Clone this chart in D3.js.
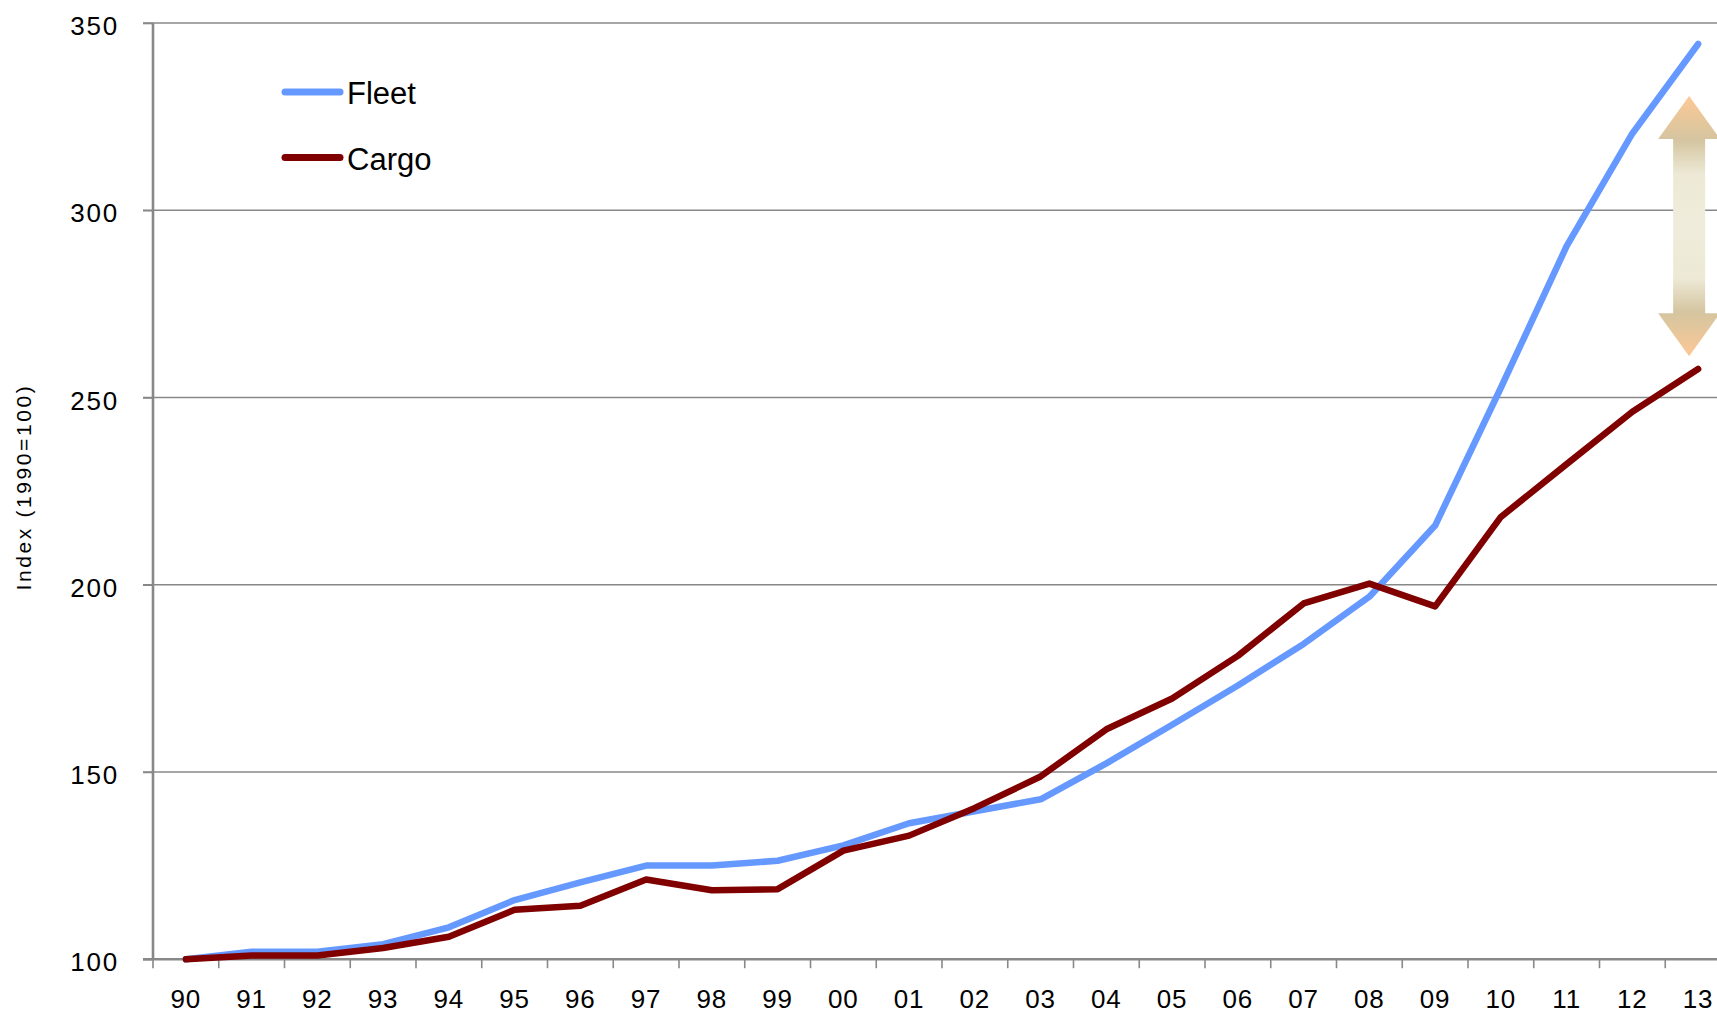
<!DOCTYPE html>
<html>
<head>
<meta charset="utf-8">
<script src="https://cdn.jsdelivr.net/npm/d3@7/dist/d3.min.js"></script>
<style>
	html, body { margin: 0; padding: 0; background: #fff; overflow: hidden; }
	text { font-family: "Liberation Sans", Arial, sans-serif; fill: #000; }
</style>
</head>
<body>
<svg id="chart" width="1717" height="1014"></svg>
<script>
// Years shown as two-digit labels
const years = ["90", "91", "92", "93", "94", "95", "96", "97", "98", "99", "00", "01",
	"02", "03", "04", "05", "06", "07", "08", "09", "10", "11", "12", "13"]

// Index values (1990 = 100)
const fleet = [100, 102, 102, 104, 108.5, 115.8, 120.5, 125, 125, 126.3, 130.4, 136.3,
	139.5, 142.7, 152.3, 162.6, 173.1, 184.2, 196.8, 215.8, 252.6, 290.4, 320.5, 344.4]
const cargo = [100, 101, 101, 103, 106, 113.2, 114.3, 121.3, 118.4, 118.7, 129, 133,
	140.4, 148.8, 161.4, 169.6, 181, 195, 200.3, 194.2, 218.1, 232.2, 246.2, 257.6]

const yTicks = [100, 150, 200, 250, 300, 350]

const series = [
	{ name: "Fleet", values: fleet, colour: "#6699ff" },
	{ name: "Cargo", values: cargo, colour: "#800000" },
]

const svg = d3.select("#chart")
const plotLeft = 153
const plotTop = 23
const plotBottom = 959.2
const band = 65.75

const x = d3.scaleBand()
	.domain(years)
	.range([plotLeft, plotLeft + band * years.length])
const y = d3.scaleLinear()
	.domain([100, 350])
	.range([plotBottom, plotTop])

const gridColour = "#888"

// Horizontal gridlines, running off the right edge like the original
svg.append("g")
	.selectAll("line")
	.data(yTicks.filter(v => v !== 100))
	.join("line")
	.attr("x1", plotLeft - 10)
	.attr("x2", 1717)
	.attr("y1", d => y(d))
	.attr("y2", d => y(d))
	.attr("stroke", gridColour)
	.attr("stroke-width", 1.6)

// Y axis
let yAxis = svg.append("g")
	.attr("transform", `translate(${plotLeft},0)`)
	.call(d3.axisLeft(y).tickValues(yTicks).tickSize(10).tickPadding(24))
yAxis.select(".domain")
	.attr("stroke", gridColour)
	.attr("stroke-width", 2.6)
	.attr("d", `M0,${plotTop}V${plotBottom}`)
yAxis.selectAll(".tick line")
	.attr("stroke", gridColour)
	.attr("stroke-width", 1.6)
yAxis.selectAll(".tick text")
	.attr("font-size", 26)
	.attr("letter-spacing", 1.8)
	.attr("dy", "0.45em")
	.attr("font-family", "Liberation Sans, Arial, sans-serif")
	.attr("fill", "#000")

// X axis: ticks between categories, labels in the middle
let xAxis = svg.append("g")
	.attr("transform", `translate(0,${plotBottom})`)
xAxis.append("line")
	.attr("x1", plotLeft - 10)
	.attr("x2", 1717)
	.attr("stroke", gridColour)
	.attr("stroke-width", 2.6)
xAxis.selectAll("line.tick")
	.data(years.concat(["end"]))
	.join("line")
	.attr("class", "tick")
	.attr("x1", (d, i) => plotLeft + i * x.step())
	.attr("x2", (d, i) => plotLeft + i * x.step())
	.attr("y1", 0)
	.attr("y2", 9)
	.attr("stroke", gridColour)
	.attr("stroke-width", 1.6)
xAxis.selectAll("text")
	.data(years)
	.join("text")
	.attr("x", d => x(d) + x.bandwidth() / 2)
	.attr("y", 48.5)
	.attr("text-anchor", "middle")
	.attr("font-size", 26)
	.attr("letter-spacing", 1)
	.text(d => d)

// Y axis title
svg.append("text")
	.attr("transform", "translate(31,487) rotate(-90)")
	.attr("text-anchor", "middle")
	.attr("font-size", 21)
	.attr("letter-spacing", 2.6)
	.text("Index (1990=100)")

// Gap arrow between the two series in 2013
const defs = svg.append("defs")
const grad = defs.append("linearGradient")
	.attr("id", "arrowFill")
	.attr("x1", 0).attr("y1", 0)
	.attr("x2", 0).attr("y2", 1)
const stops = [
	[0, "#fdc896"], [0.17, "#d4c5a0"], [0.3, "#ede9d6"],
	[0.5, "#efecdb"], [0.7, "#ede9d6"], [0.83, "#d4c5a0"], [1, "#fdc896"],
]
grad.selectAll("stop")
	.data(stops)
	.join("stop")
	.attr("offset", d => d[0])
	.attr("stop-color", d => d[1])

const ax = x("13") + x.bandwidth() / 2 - 9
const aTop = y(330.5)
const aBot = y(261)
const headH = 43
const headW = 31
const shaftW = 16
svg.append("path")
	.attr("d", [
		`M${ax},${aTop}`,
		`L${ax + headW},${aTop + headH}`,
		`L${ax + shaftW},${aTop + headH}`,
		`L${ax + shaftW},${aBot - headH}`,
		`L${ax + headW},${aBot - headH}`,
		`L${ax},${aBot}`,
		`L${ax - headW},${aBot - headH}`,
		`L${ax - shaftW},${aBot - headH}`,
		`L${ax - shaftW},${aTop + headH}`,
		`L${ax - headW},${aTop + headH}`,
		"Z",
	].join(" "))
	.attr("fill", "url(#arrowFill)")

// Series lines
const line = d3.line()
	.x((d, i) => x(years[i]) + x.bandwidth() / 2)
	.y(d => y(d))

svg.append("g")
	.selectAll("path")
	.data(series)
	.join("path")
	.attr("d", d => line(d.values))
	.attr("fill", "none")
	.attr("stroke", d => d.colour)
	.attr("stroke-width", 6.5)
	.attr("stroke-linejoin", "round")
	.attr("stroke-linecap", "round")

// Legend
const legend = svg.append("g")
	.selectAll("g")
	.data(series)
	.join("g")
	.attr("transform", (d, i) => `translate(285,${92 + i * 65.5})`)
legend.append("line")
	.attr("x1", 0)
	.attr("x2", 55)
	.attr("stroke", d => d.colour)
	.attr("stroke-width", 7)
	.attr("stroke-linecap", "round")
legend.append("text")
	.attr("x", 62)
	.attr("y", 12)
	.attr("font-size", 31)
	.text(d => d.name)
</script>
</body>
</html>
